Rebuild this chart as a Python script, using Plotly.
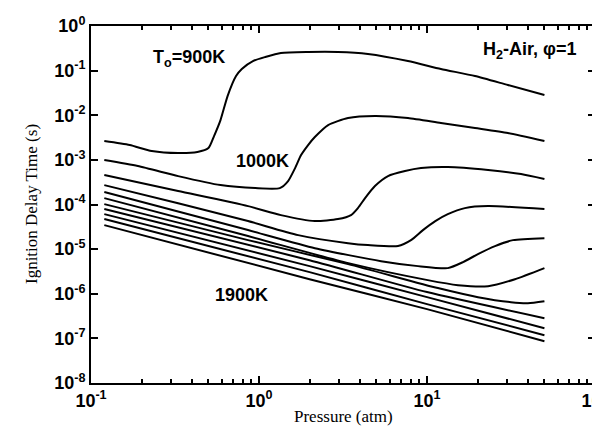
import plotly.graph_objects as go

# Pressure (atm) and ignition delay time (s) for each initial temperature
P_900 = [0.12, 0.17, 0.23, 0.33, 0.43, 0.50, 0.54, 0.59, 0.65, 0.73, 0.79, 0.92, 1.09, 1.35, 1.96, 2.95, 4.45, 7.7, 12.1, 19.3, 30.3, 50]
T_900 = [2.64e-3, 2.15e-3, 1.58e-3, 1.42e-3, 1.50e-3, 1.84e-3, 3.42e-3, 7.8e-3, 2.69e-2, 7.57e-2, 0.109, 0.164, 0.202, 0.248, 0.261, 0.261, 0.236, 0.164, 0.109, 0.0757, 0.0475, 0.0284]

P_1000 = [0.12, 0.19, 0.33, 0.59, 0.95, 1.33, 1.49, 1.64, 1.78, 1.96, 2.15, 2.58, 3.39, 4.9, 7.7, 12.1, 19.3, 30.3, 50]
T_1000 = [9.9e-4, 7.26e-4, 4.33e-4, 2.72e-4, 2.33e-4, 2.33e-4, 3.35e-4, 6.55e-4, 1.28e-3, 2.15e-3, 3.25e-3, 6.03e-3, 8.65e-3, 9.6e-3, 8.65e-3, 6.68e-3, 5.16e-3, 3.99e-3, 2.64e-3]

P_1100 = [0.12, 0.33, 0.86, 1.35, 2.15, 2.95, 3.53, 3.88, 4.28, 4.9, 5.86, 7.4, 9.21, 13.3, 23.1, 36.3, 50]
T_1100 = [4.56e-4, 2.0e-4, 9.2e-5, 5.78e-5, 4.25e-5, 4.71e-5, 5.78e-5, 8.3e-5, 1.39e-4, 2.59e-4, 4.33e-4, 5.61e-4, 6.55e-4, 6.9e-4, 5.9e-4, 4.8e-4, 3.71e-4]

P_1200 = [0.12, 0.33, 0.86, 1.71, 3.39, 4.45, 6.72, 8.03, 9.46, 11.2, 13.3, 16.8, 23.1, 50]
T_1200 = [2.72e-4, 1.07e-4, 4.25e-5, 2.06e-5, 1.36e-5, 1.23e-5, 1.17e-5, 1.59e-5, 2.67e-5, 4.25e-5, 6.09e-5, 8.3e-5, 9.2e-5, 7.89e-5]

P_1300 = [0.12, 0.86, 2.15, 5.33, 8.84, 13.3, 16.4, 20.1, 25.4, 32.5, 50]
T_1300 = [1.90e-4, 2.67e-5, 1.05e-5, 5.38e-6, 4.16e-6, 3.75e-6, 5.12e-6, 7.73e-6, 1.17e-5, 1.59e-5, 1.76e-5]

P_1400 = [0.12, 0.86, 3.4, 10.1, 15.3, 23.1, 33.4, 50]
T_1400 = [1.39e-4, 1.96e-5, 4.85e-6, 2.02e-6, 1.56e-6, 1.48e-6, 2.12e-6, 3.75e-6]

P_1500 = [0.12, 0.86, 3.39, 11.6, 20.1, 31.6, 39.9, 50]
T_1500 = [1.02e-4, 1.59e-5, 4.61e-6, 1.34e-6, 8.39e-7, 6.48e-7, 6.15e-7, 6.83e-7]

P_1600 = [0.12, 2.0, 10.0, 50]
T_1600 = [7.89e-5, 5.66e-6, 1.09e-6, 2.84e-7]

P_1700 = [0.12, 2.0, 10.0, 50]
T_1700 = [6.09e-5, 4.16e-6, 8.39e-7, 1.69e-7]

P_1800 = [0.12, 2.0, 10.0, 50]
T_1800 = [4.71e-5, 3.05e-6, 5.85e-7, 1.18e-7]

P_1900 = [0.12, 2.0, 10.0, 50]
T_1900 = [3.45e-5, 2.12e-6, 4.52e-7, 8.65e-8]

temperatures = ["900K", "1000K", "1100K", "1200K", "1300K", "1400K",
                "1500K", "1600K", "1700K", "1800K", "1900K"]
series = [(P_900, T_900), (P_1000, T_1000), (P_1100, T_1100), (P_1200, T_1200),
          (P_1300, T_1300), (P_1400, T_1400), (P_1500, T_1500), (P_1600, T_1600),
          (P_1700, T_1700), (P_1800, T_1800), (P_1900, T_1900)]

x_tick_vals = [0.1, 1, 10, 100]
x_tick_text = ["10<sup>-1</sup>", "10<sup>0</sup>", "10<sup>1</sup>", "10<sup>2</sup>"]
y_tick_vals = [1, 1e-1, 1e-2, 1e-3, 1e-4, 1e-5, 1e-6, 1e-7, 1e-8]
y_tick_text = ["10<sup>0</sup>", "10<sup>-1</sup>", "10<sup>-2</sup>", "10<sup>-3</sup>",
               "10<sup>-4</sup>", "10<sup>-5</sup>", "10<sup>-6</sup>", "10<sup>-7</sup>",
               "10<sup>-8</sup>"]

fig = go.Figure()
for name, (p, t) in zip(temperatures, series):
    fig.add_trace(go.Scatter(x=p, y=t, mode="lines", name=name,
                             line=dict(color="black", width=2, shape="spline", smoothing=0.6),
                             showlegend=False))

label_font = dict(family="Liberation Sans", size=18, color="black", weight="bold")
fig.add_annotation(x=-0.417, y=-0.717, text="T<sub>o</sub>=900K", showarrow=False, font=label_font)
fig.add_annotation(x=0.018, y=-3.03, text="1000K", showarrow=False, font=label_font)
fig.add_annotation(x=-0.107, y=-6.03, text="1900K", showarrow=False, font=label_font)
fig.add_annotation(x=1.613, y=-0.56, text="H<sub>2</sub>-Air, φ=1", showarrow=False, font=label_font)

title_font = dict(family="Liberation Serif", size=17, color="black")
fig.add_annotation(xref="paper", yref="paper", x=0.5, y=-0.095, text="Pressure (atm)",
                   showarrow=False, font=title_font, yanchor="middle")
fig.add_annotation(xref="paper", yref="paper", x=-0.118, y=0.5, text="Ignition Delay Time (s)",
                   showarrow=False, font=title_font, textangle=-90, xanchor="center")

tick_font = dict(family="Liberation Sans", size=18, color="black", weight="bold")

fig.update_xaxes(type="log", range=[-1, 2], tickvals=x_tick_vals, ticktext=x_tick_text,
                 ticklabeloverflow="allow",
                 showgrid=False, zeroline=False, showline=True, linecolor="black",
                 linewidth=2, mirror="allticks", ticks="inside", ticklen=7,
                 tickwidth=1.5, tickcolor="black", tickfont=tick_font,
                 minor=dict(ticks="inside", ticklen=4, tickcolor="black", dtick="D1", showgrid=False))
fig.update_yaxes(type="log", range=[-8, 0], tickvals=y_tick_vals, ticktext=y_tick_text,
                 ticklabeloverflow="allow",
                 showgrid=False, zeroline=False, showline=True, linecolor="black",
                 linewidth=2, mirror="allticks", ticks="inside", ticklen=7,
                 tickwidth=1.5, tickcolor="black", tickfont=tick_font)

fig.update_layout(width=600, height=433, plot_bgcolor="white", paper_bgcolor="white",
                  margin=dict(l=83, r=13, t=18, b=58, autoexpand=False))

fig.write_html("out.html")
